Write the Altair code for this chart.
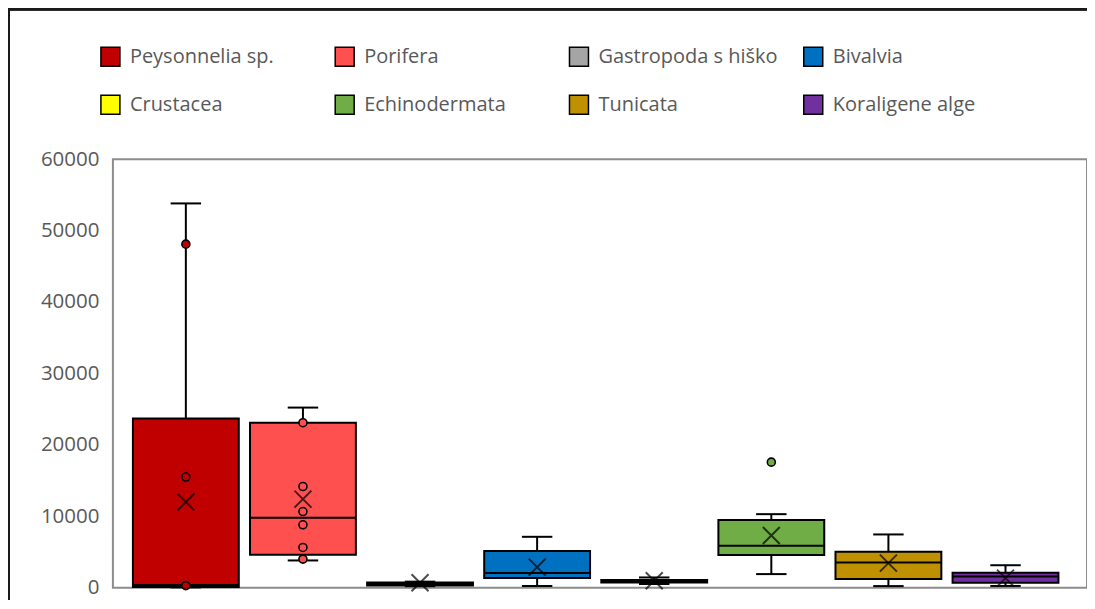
import altair as alt
import pandas as pd

categories = ["Peysonnelia sp.", "Porifera", "Gastropoda s hiško", "Bivalvia",
              "Crustacea", "Echinodermata", "Tunicata", "Koraligene alge"]
colors = ["#C00000", "#FF5050", "#A5A5A5", "#0070C0",
          "#FFFF00", "#70AD47", "#BF9000", "#7030A0"]
whisker_min = [50, 3820, 220, 240, 520, 1910, 230, 250]
q1 = [100, 4620, 330, 1350, 740, 4570, 1210, 700]
median = [400, 9790, 520, 2050, 900, 5870, 3540, 1580]
q3 = [23700, 23100, 730, 5130, 1080, 9470, 5030, 2100]
whisker_max = [53800, 25220, 850, 7130, 1440, 10300, 7460, 3150]
mean = [12000, 12400, 700, 2890, 980, 7320, 3450, 1350]

point_series = ["Peysonnelia sp.", "Peysonnelia sp.", "Peysonnelia sp.",
                "Porifera", "Porifera", "Porifera", "Porifera", "Porifera", "Porifera",
                "Echinodermata"]
point_values = [48100, 15500, 300,
                23100, 14170, 10670, 8810, 5640, 4010,
                17580]

y_ticks = [0, 10000, 20000, 30000, 40000, 50000, 60000]

box = pd.DataFrame({
    "cat": categories,
    "idx": list(range(len(categories))),
    "wmin": whisker_min, "q1": q1, "med": median, "q3": q3,
    "wmax": whisker_max, "mean": mean,
})
idx_of = {c: i for i, c in enumerate(categories)}
pts = pd.DataFrame({"cat": point_series,
                    "idx": [idx_of[c] for c in point_series],
                    "val": point_values})

xscale = alt.Scale(domain=[-0.623, 7.696], nice=False, zero=False)
yscale = alt.Scale(domain=[0, 60000], nice=False)
cscale = alt.Scale(domain=categories, range=colors)

X = alt.X("idx:Q", scale=xscale, axis=None)
Xlo = alt.X("lo:Q", scale=xscale, axis=None)
Xhi = alt.X2("hi:Q")

base = alt.Chart(box).transform_calculate(lo="datum.idx - 0.452", hi="datum.idx + 0.452",
                                           clo="datum.idx - 0.13", chi="datum.idx + 0.13")

whisk = base.mark_rule(color="black", strokeWidth=2).encode(
    x=X,
    y=alt.Y("wmin:Q", scale=yscale,
            axis=alt.Axis(values=y_ticks, format="d", ticks=False, domain=False, grid=False,
                          labelFontSize=20.5, labelFont="Open Sans", labelColor="#595959",
                          labelPadding=14, title=None)),
    y2="wmax:Q",
)
cap_lo = base.mark_rule(color="black", strokeWidth=2).encode(
    x=alt.X("clo:Q", scale=xscale, axis=None), x2="chi:Q", y="wmin:Q")
cap_hi = base.mark_rule(color="black", strokeWidth=2).encode(
    x=alt.X("clo:Q", scale=xscale, axis=None), x2="chi:Q", y="wmax:Q")

boxes = base.mark_rect(stroke="black", strokeWidth=2).encode(
    x=Xlo, x2=Xhi, y="q1:Q", y2="q3:Q",
    color=alt.Color("cat:N", scale=cscale, sort=categories,
                    legend=alt.Legend(
                        title=None, orient="none", legendX=-13, legendY=-113,
                        direction="horizontal",
                        columns=4, gridAlign="all", columnPadding=22.5, rowPadding=23,
                        symbolType="square", symbolSize=361,
                        symbolStrokeColor="black", symbolStrokeWidth=1.5,
                        labelFontSize=20, labelFont="Open Sans", labelColor="#595959",
                        labelOffset=9, labelLimit=300, padding=0)),
)
med = base.mark_rule(color="black", strokeWidth=2).encode(x=Xlo, x2=Xhi, y="med:Q")

points = alt.Chart(pts).mark_point(filled=True, shape="circle", size=64,
                                   stroke="black", strokeWidth=1.6, opacity=1).encode(
    x=X, y=alt.Y("val:Q", scale=yscale),
    color=alt.Color("cat:N", scale=cscale, legend=None),
)
means = base.mark_point(shape="M-1,-1L1,1M-1,1L1,-1", size=289, filled=False,
                        stroke="black", strokeWidth=2).encode(
    x=X, y=alt.Y("mean:Q", scale=yscale))

frame_top = alt.Chart(box).mark_rule(color="#1a1a1a", strokeWidth=2).encode(
    x=alt.value(-105), x2=alt.value(990), y=alt.value(-150))
frame_left = alt.Chart(box).mark_rule(color="#1a1a1a", strokeWidth=2).encode(
    x=alt.value(-104), y=alt.value(-151), y2=alt.value(445))

chart = alt.layer(whisk, cap_lo, cap_hi, boxes, med, points, means,
                  frame_top, frame_left).properties(
    width=975, height=429,
    background="white",
    autosize=alt.AutoSizeParams(type="none"),
    padding={"left": 105, "top": 151, "right": 0, "bottom": 12},
).configure_view(stroke="#8c8c8c", strokeWidth=2)

chart.save("out.html", embed_options={"renderer": "svg", "actions": False})
